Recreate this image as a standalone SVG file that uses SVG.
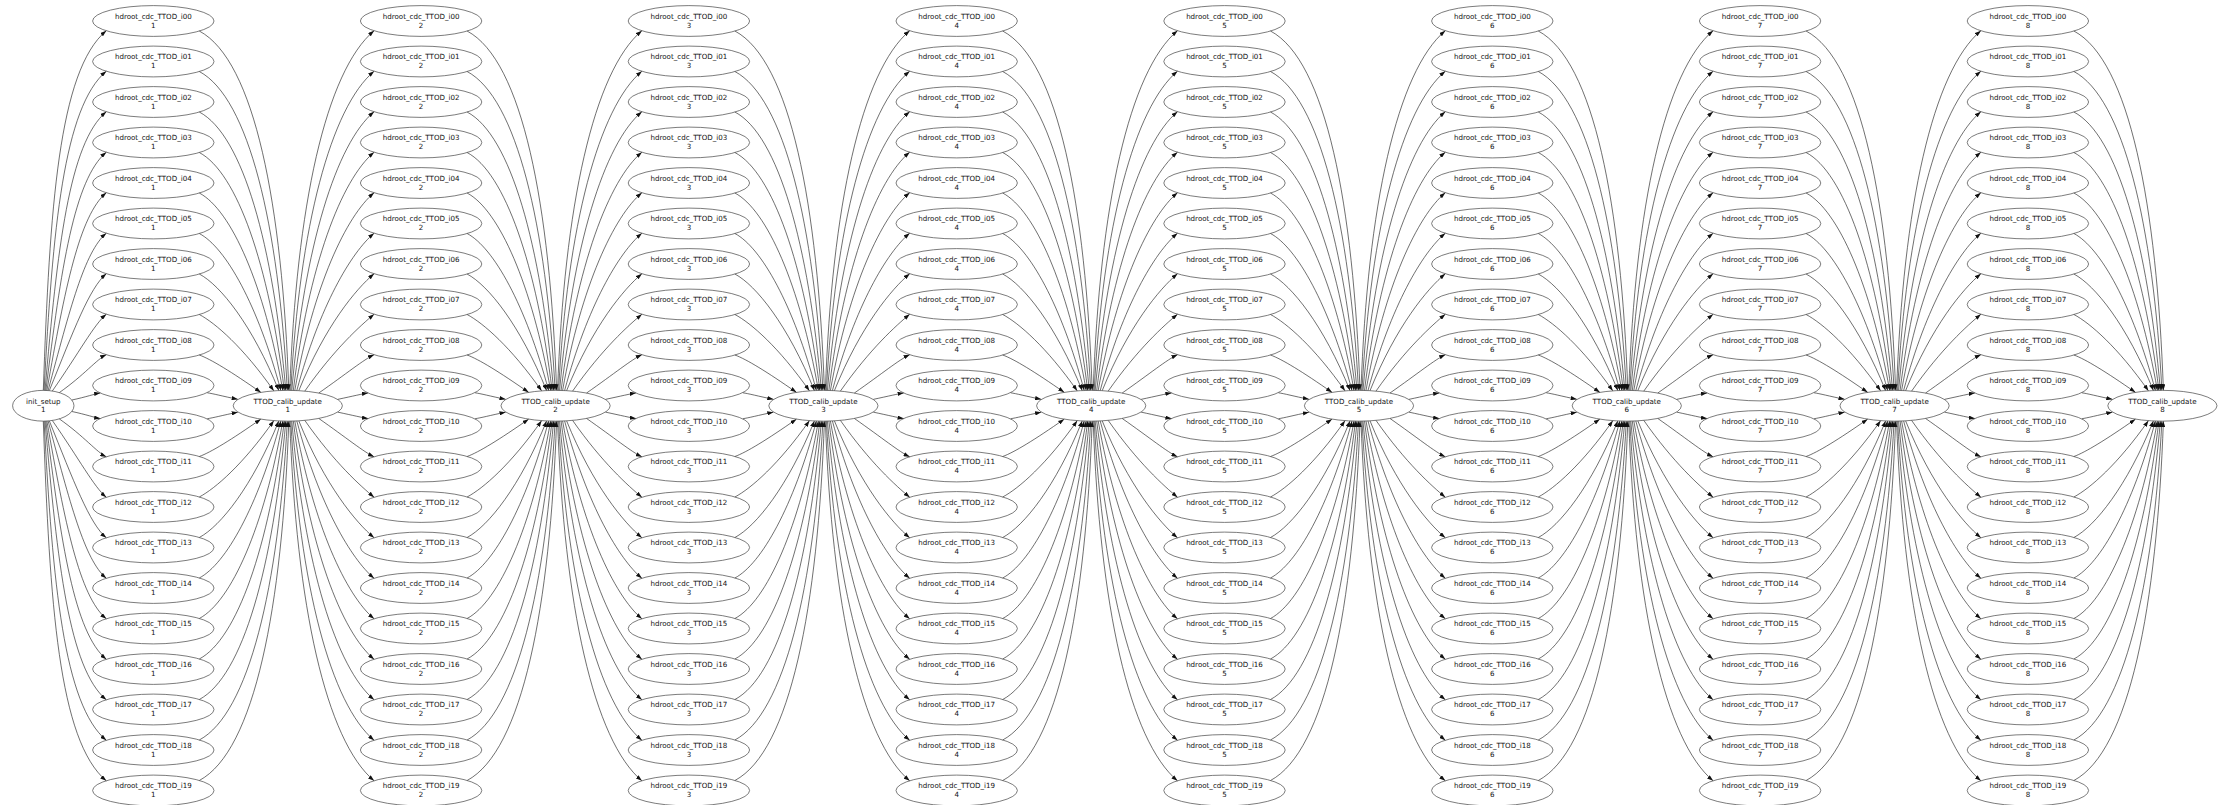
<svg xmlns="http://www.w3.org/2000/svg" width="2234" height="805" viewBox="0 0 2234 805">
<style>
.n ellipse{fill:none;stroke:#444;stroke-width:0.7}
.n text{font-family:"DejaVu Sans","Liberation Sans",sans-serif;font-size:7.1px;text-anchor:middle;fill:#111}
</style>
<defs>
<marker id="arr" markerUnits="userSpaceOnUse" viewBox="0 0 10 7" markerWidth="6.2" markerHeight="4.3" refX="10" refY="3.5" orient="auto"><path d="M0,0 L10,3.5 L0,7 z" fill="#111" stroke="none"/></marker>
<g id="fanin" fill="none" stroke="#222" stroke-width="0.65" marker-end="url(#arr)">
<path d="M46,31 C101.6,60.6 129,205.3 135.5,390.35"/>
<path d="M46,71.5 C95.6,97.9 125.3,225.2 134,390.35"/>
<path d="M46,112 C89.8,135.3 119.8,245.2 132.5,390.36"/>
<path d="M46,152.5 C83.9,172.6 115.6,265 131,390.38"/>
<path d="M46,193 C78.1,210.1 110.9,284.8 129.5,390.42"/>
<path d="M46,233.5 C72.6,247.6 104.6,305.1 127.5,390.48"/>
<path d="M46,274 C67.2,285.3 99.1,325.2 125.5,390.56"/>
<path d="M46,314.5 C62,323 89.9,347.15 120.5,390.85"/>
<path d="M46,355 C57.5,359.2 78,371.75 107.5,392.35"/>
<path d="M54,392.8 C59.25,393.54 69.24,396.11 84.5,399.35"/>
<path d="M54,418.7 C59.25,417.96 69.24,415.39 84.5,412.15"/>
<path d="M46,456.5 C57.5,452.3 78,439.75 107.5,419.15"/>
<path d="M46,497 C62,488.5 89.9,464.35 120.5,420.65"/>
<path d="M46,537.5 C67.2,526.2 99.1,486.3 125.5,420.94"/>
<path d="M46,578 C72.6,563.9 104.6,506.4 127.5,421.02"/>
<path d="M46,618.5 C78.1,601.4 110.9,526.7 129.5,421.08"/>
<path d="M46,659 C83.9,638.9 115.6,546.5 131,421.12"/>
<path d="M46,699.5 C89.8,676.2 119.8,566.3 132.5,421.14"/>
<path d="M46,740 C95.6,713.6 125.3,586.3 134,421.15"/>
<path d="M46,780.5 C101.6,750.9 129,606.2 135.5,421.15"/>
</g>
<g id="fanout" fill="none" stroke="#222" stroke-width="0.65" marker-end="url(#arr)">
<path d="M2,390.36 C8.4,205.8 38.2,71.1 86.3,30.7"/>
<path d="M3,390.37 C11.6,225.7 43.3,107.3 86.3,71.2"/>
<path d="M4,390.39 C16.7,245.7 48.5,143.5 86.3,111.7"/>
<path d="M5.5,390.43 C20.8,265.5 53.5,179.7 86.3,152.2"/>
<path d="M7,390.48 C25.5,285.6 58.6,216 86.3,192.7"/>
<path d="M9,390.56 C31.7,305.9 63.5,252.4 86.3,233.2"/>
<path d="M11,390.66 C37.1,326.2 68.2,288.9 86.3,273.7"/>
<path d="M17,391.1 C46.7,348.7 72.8,325.5 86.3,314.2"/>
<path d="M31,393.03 C58.6,373.7 76,359.5 86.3,354.7"/>
<path d="M50,399.35 C65.16,396.13 75.08,393.73 80.3,393"/>
<path d="M50,412.15 C65.16,415.37 75.08,417.77 80.3,418.5"/>
<path d="M31,418.47 C58.6,437.8 76,452 86.3,456.8"/>
<path d="M17,420.4 C46.7,462.8 72.8,486 86.3,497.3"/>
<path d="M11,420.84 C37.1,485.3 68.2,522.6 86.3,537.8"/>
<path d="M9,420.94 C31.7,505.6 63.5,559.1 86.3,578.3"/>
<path d="M7,421.02 C25.5,525.9 58.6,595.5 86.3,618.8"/>
<path d="M5.5,421.07 C20.8,546 53.5,631.8 86.3,659.3"/>
<path d="M4,421.11 C16.7,565.8 48.5,668 86.3,699.8"/>
<path d="M3,421.13 C11.6,585.8 43.3,704.2 86.3,740.3"/>
<path d="M2,421.14 C8.4,605.7 38.2,740.4 86.3,780.8"/>
</g>
<g id="initout" fill="none" stroke="#222" stroke-width="0.65" marker-end="url(#arr)">
<path d="M0,390.35 C6.4,207.85 15.4,70.6 63,30.7"/>
<path d="M0.8,390.36 C9.3,227.96 20.6,106.7 63,71.2"/>
<path d="M1.7,390.38 C14.1,248.2 25.8,142.9 63,111.7"/>
<path d="M2.6,390.41 C17.6,268.4 31,179.1 63,152.2"/>
<path d="M3.6,390.46 C21.5,288.8 36.1,215.3 63,192.7"/>
<path d="M4.8,390.54 C26.5,309.5 41.2,251.5 63,233.2"/>
<path d="M6,390.65 C30.4,330.35 46.1,287.9 63,273.7"/>
<path d="M9,391.03 C35.9,352.5 50.7,324.5 63,314.2"/>
<path d="M16,392.61 C40.7,375.3 53.7,359.05 63,354.7"/>
<path d="M28.5,400.03 C42.87,396.97 52.05,393.7 57,393"/>
<path d="M28.5,411.47 C42.87,414.53 52.05,417.8 57,418.5"/>
<path d="M16,418.89 C40.7,436.2 53.7,452.45 63,456.8"/>
<path d="M9,420.47 C35.9,459 50.7,487 63,497.3"/>
<path d="M6,420.85 C30.4,481.15 46.1,523.6 63,537.8"/>
<path d="M4.8,420.96 C26.5,502 41.2,560 63,578.3"/>
<path d="M3.6,421.04 C21.5,522.7 36.1,596.2 63,618.8"/>
<path d="M2.6,421.09 C17.6,543.1 31,632.4 63,659.3"/>
<path d="M1.7,421.12 C14.1,563.3 25.8,668.6 63,699.8"/>
<path d="M0.8,421.14 C9.3,583.54 20.6,704.8 63,740.3"/>
<path d="M0,421.15 C6.4,603.65 15.4,740.9 63,780.8"/>
</g>
</defs>
<rect width="2234" height="805" fill="#fff"/>
<g id="connectors">
<use href="#initout" x="43.3"/>
<use href="#fanin" x="153.3"/>
<use href="#fanout" x="287.8"/>
<use href="#fanin" x="421.1"/>
<use href="#fanout" x="555.6"/>
<use href="#fanin" x="688.9"/>
<use href="#fanout" x="823.4"/>
<use href="#fanin" x="956.7"/>
<use href="#fanout" x="1091.2"/>
<use href="#fanin" x="1224.5"/>
<use href="#fanout" x="1359"/>
<use href="#fanin" x="1492.3"/>
<use href="#fanout" x="1626.8"/>
<use href="#fanin" x="1760.1"/>
<use href="#fanout" x="1894.6"/>
<use href="#fanin" x="2027.9"/>
</g>
<g id="nodes">
<g id="init_setup" class="n" transform="translate(43.3,405.75)"><ellipse rx="30.7" ry="15.4"/><text y="-2.2">init_setup</text><text y="6.6">1</text></g>
<g id="ttod1" class="n" transform="translate(287.8,405.75)"><ellipse rx="54.6" ry="15.4"/><text y="-2.2">TTOD_calib_update</text><text y="6.6">1</text></g>
<g id="ttod2" class="n" transform="translate(555.6,405.75)"><ellipse rx="54.6" ry="15.4"/><text y="-2.2">TTOD_calib_update</text><text y="6.6">2</text></g>
<g id="ttod3" class="n" transform="translate(823.4,405.75)"><ellipse rx="54.6" ry="15.4"/><text y="-2.2">TTOD_calib_update</text><text y="6.6">3</text></g>
<g id="ttod4" class="n" transform="translate(1091.2,405.75)"><ellipse rx="54.6" ry="15.4"/><text y="-2.2">TTOD_calib_update</text><text y="6.6">4</text></g>
<g id="ttod5" class="n" transform="translate(1359,405.75)"><ellipse rx="54.6" ry="15.4"/><text y="-2.2">TTOD_calib_update</text><text y="6.6">5</text></g>
<g id="ttod6" class="n" transform="translate(1626.8,405.75)"><ellipse rx="54.6" ry="15.4"/><text y="-2.2">TTOD_calib_update</text><text y="6.6">6</text></g>
<g id="ttod7" class="n" transform="translate(1894.6,405.75)"><ellipse rx="54.6" ry="15.4"/><text y="-2.2">TTOD_calib_update</text><text y="6.6">7</text></g>
<g id="ttod8" class="n" transform="translate(2162.4,405.75)"><ellipse rx="54.6" ry="15.4"/><text y="-2.2">TTOD_calib_update</text><text y="6.6">8</text></g>
<g id="col1" transform="translate(153.3,0)">
<g id="h1_i00" class="n" transform="translate(0,21)"><ellipse rx="60.7" ry="15.4"/><text y="-2.2">hdroot_cdc_TTOD_i00</text><text y="6.6">1</text></g>
<g id="h1_i01" class="n" transform="translate(0,61.5)"><ellipse rx="60.7" ry="15.4"/><text y="-2.2">hdroot_cdc_TTOD_i01</text><text y="6.6">1</text></g>
<g id="h1_i02" class="n" transform="translate(0,102)"><ellipse rx="60.7" ry="15.4"/><text y="-2.2">hdroot_cdc_TTOD_i02</text><text y="6.6">1</text></g>
<g id="h1_i03" class="n" transform="translate(0,142.5)"><ellipse rx="60.7" ry="15.4"/><text y="-2.2">hdroot_cdc_TTOD_i03</text><text y="6.6">1</text></g>
<g id="h1_i04" class="n" transform="translate(0,183)"><ellipse rx="60.7" ry="15.4"/><text y="-2.2">hdroot_cdc_TTOD_i04</text><text y="6.6">1</text></g>
<g id="h1_i05" class="n" transform="translate(0,223.5)"><ellipse rx="60.7" ry="15.4"/><text y="-2.2">hdroot_cdc_TTOD_i05</text><text y="6.6">1</text></g>
<g id="h1_i06" class="n" transform="translate(0,264)"><ellipse rx="60.7" ry="15.4"/><text y="-2.2">hdroot_cdc_TTOD_i06</text><text y="6.6">1</text></g>
<g id="h1_i07" class="n" transform="translate(0,304.5)"><ellipse rx="60.7" ry="15.4"/><text y="-2.2">hdroot_cdc_TTOD_i07</text><text y="6.6">1</text></g>
<g id="h1_i08" class="n" transform="translate(0,345)"><ellipse rx="60.7" ry="15.4"/><text y="-2.2">hdroot_cdc_TTOD_i08</text><text y="6.6">1</text></g>
<g id="h1_i09" class="n" transform="translate(0,385.5)"><ellipse rx="60.7" ry="15.4"/><text y="-2.2">hdroot_cdc_TTOD_i09</text><text y="6.6">1</text></g>
<g id="h1_i10" class="n" transform="translate(0,426)"><ellipse rx="60.7" ry="15.4"/><text y="-2.2">hdroot_cdc_TTOD_i10</text><text y="6.6">1</text></g>
<g id="h1_i11" class="n" transform="translate(0,466.5)"><ellipse rx="60.7" ry="15.4"/><text y="-2.2">hdroot_cdc_TTOD_i11</text><text y="6.6">1</text></g>
<g id="h1_i12" class="n" transform="translate(0,507)"><ellipse rx="60.7" ry="15.4"/><text y="-2.2">hdroot_cdc_TTOD_i12</text><text y="6.6">1</text></g>
<g id="h1_i13" class="n" transform="translate(0,547.5)"><ellipse rx="60.7" ry="15.4"/><text y="-2.2">hdroot_cdc_TTOD_i13</text><text y="6.6">1</text></g>
<g id="h1_i14" class="n" transform="translate(0,588)"><ellipse rx="60.7" ry="15.4"/><text y="-2.2">hdroot_cdc_TTOD_i14</text><text y="6.6">1</text></g>
<g id="h1_i15" class="n" transform="translate(0,628.5)"><ellipse rx="60.7" ry="15.4"/><text y="-2.2">hdroot_cdc_TTOD_i15</text><text y="6.6">1</text></g>
<g id="h1_i16" class="n" transform="translate(0,669)"><ellipse rx="60.7" ry="15.4"/><text y="-2.2">hdroot_cdc_TTOD_i16</text><text y="6.6">1</text></g>
<g id="h1_i17" class="n" transform="translate(0,709.5)"><ellipse rx="60.7" ry="15.4"/><text y="-2.2">hdroot_cdc_TTOD_i17</text><text y="6.6">1</text></g>
<g id="h1_i18" class="n" transform="translate(0,750)"><ellipse rx="60.7" ry="15.4"/><text y="-2.2">hdroot_cdc_TTOD_i18</text><text y="6.6">1</text></g>
<g id="h1_i19" class="n" transform="translate(0,790.5)"><ellipse rx="60.7" ry="15.4"/><text y="-2.2">hdroot_cdc_TTOD_i19</text><text y="6.6">1</text></g>
</g>
<g id="col2" transform="translate(421.1,0)">
<g id="h2_i00" class="n" transform="translate(0,21)"><ellipse rx="60.7" ry="15.4"/><text y="-2.2">hdroot_cdc_TTOD_i00</text><text y="6.6">2</text></g>
<g id="h2_i01" class="n" transform="translate(0,61.5)"><ellipse rx="60.7" ry="15.4"/><text y="-2.2">hdroot_cdc_TTOD_i01</text><text y="6.6">2</text></g>
<g id="h2_i02" class="n" transform="translate(0,102)"><ellipse rx="60.7" ry="15.4"/><text y="-2.2">hdroot_cdc_TTOD_i02</text><text y="6.6">2</text></g>
<g id="h2_i03" class="n" transform="translate(0,142.5)"><ellipse rx="60.7" ry="15.4"/><text y="-2.2">hdroot_cdc_TTOD_i03</text><text y="6.6">2</text></g>
<g id="h2_i04" class="n" transform="translate(0,183)"><ellipse rx="60.7" ry="15.4"/><text y="-2.2">hdroot_cdc_TTOD_i04</text><text y="6.6">2</text></g>
<g id="h2_i05" class="n" transform="translate(0,223.5)"><ellipse rx="60.7" ry="15.4"/><text y="-2.2">hdroot_cdc_TTOD_i05</text><text y="6.6">2</text></g>
<g id="h2_i06" class="n" transform="translate(0,264)"><ellipse rx="60.7" ry="15.4"/><text y="-2.2">hdroot_cdc_TTOD_i06</text><text y="6.6">2</text></g>
<g id="h2_i07" class="n" transform="translate(0,304.5)"><ellipse rx="60.7" ry="15.4"/><text y="-2.2">hdroot_cdc_TTOD_i07</text><text y="6.6">2</text></g>
<g id="h2_i08" class="n" transform="translate(0,345)"><ellipse rx="60.7" ry="15.4"/><text y="-2.2">hdroot_cdc_TTOD_i08</text><text y="6.6">2</text></g>
<g id="h2_i09" class="n" transform="translate(0,385.5)"><ellipse rx="60.7" ry="15.4"/><text y="-2.2">hdroot_cdc_TTOD_i09</text><text y="6.6">2</text></g>
<g id="h2_i10" class="n" transform="translate(0,426)"><ellipse rx="60.7" ry="15.4"/><text y="-2.2">hdroot_cdc_TTOD_i10</text><text y="6.6">2</text></g>
<g id="h2_i11" class="n" transform="translate(0,466.5)"><ellipse rx="60.7" ry="15.4"/><text y="-2.2">hdroot_cdc_TTOD_i11</text><text y="6.6">2</text></g>
<g id="h2_i12" class="n" transform="translate(0,507)"><ellipse rx="60.7" ry="15.4"/><text y="-2.2">hdroot_cdc_TTOD_i12</text><text y="6.6">2</text></g>
<g id="h2_i13" class="n" transform="translate(0,547.5)"><ellipse rx="60.7" ry="15.4"/><text y="-2.2">hdroot_cdc_TTOD_i13</text><text y="6.6">2</text></g>
<g id="h2_i14" class="n" transform="translate(0,588)"><ellipse rx="60.7" ry="15.4"/><text y="-2.2">hdroot_cdc_TTOD_i14</text><text y="6.6">2</text></g>
<g id="h2_i15" class="n" transform="translate(0,628.5)"><ellipse rx="60.7" ry="15.4"/><text y="-2.2">hdroot_cdc_TTOD_i15</text><text y="6.6">2</text></g>
<g id="h2_i16" class="n" transform="translate(0,669)"><ellipse rx="60.7" ry="15.4"/><text y="-2.2">hdroot_cdc_TTOD_i16</text><text y="6.6">2</text></g>
<g id="h2_i17" class="n" transform="translate(0,709.5)"><ellipse rx="60.7" ry="15.4"/><text y="-2.2">hdroot_cdc_TTOD_i17</text><text y="6.6">2</text></g>
<g id="h2_i18" class="n" transform="translate(0,750)"><ellipse rx="60.7" ry="15.4"/><text y="-2.2">hdroot_cdc_TTOD_i18</text><text y="6.6">2</text></g>
<g id="h2_i19" class="n" transform="translate(0,790.5)"><ellipse rx="60.7" ry="15.4"/><text y="-2.2">hdroot_cdc_TTOD_i19</text><text y="6.6">2</text></g>
</g>
<g id="col3" transform="translate(688.9,0)">
<g id="h3_i00" class="n" transform="translate(0,21)"><ellipse rx="60.7" ry="15.4"/><text y="-2.2">hdroot_cdc_TTOD_i00</text><text y="6.6">3</text></g>
<g id="h3_i01" class="n" transform="translate(0,61.5)"><ellipse rx="60.7" ry="15.4"/><text y="-2.2">hdroot_cdc_TTOD_i01</text><text y="6.6">3</text></g>
<g id="h3_i02" class="n" transform="translate(0,102)"><ellipse rx="60.7" ry="15.4"/><text y="-2.2">hdroot_cdc_TTOD_i02</text><text y="6.6">3</text></g>
<g id="h3_i03" class="n" transform="translate(0,142.5)"><ellipse rx="60.7" ry="15.4"/><text y="-2.2">hdroot_cdc_TTOD_i03</text><text y="6.6">3</text></g>
<g id="h3_i04" class="n" transform="translate(0,183)"><ellipse rx="60.7" ry="15.4"/><text y="-2.2">hdroot_cdc_TTOD_i04</text><text y="6.6">3</text></g>
<g id="h3_i05" class="n" transform="translate(0,223.5)"><ellipse rx="60.7" ry="15.4"/><text y="-2.2">hdroot_cdc_TTOD_i05</text><text y="6.6">3</text></g>
<g id="h3_i06" class="n" transform="translate(0,264)"><ellipse rx="60.7" ry="15.4"/><text y="-2.2">hdroot_cdc_TTOD_i06</text><text y="6.6">3</text></g>
<g id="h3_i07" class="n" transform="translate(0,304.5)"><ellipse rx="60.7" ry="15.4"/><text y="-2.2">hdroot_cdc_TTOD_i07</text><text y="6.6">3</text></g>
<g id="h3_i08" class="n" transform="translate(0,345)"><ellipse rx="60.7" ry="15.4"/><text y="-2.2">hdroot_cdc_TTOD_i08</text><text y="6.6">3</text></g>
<g id="h3_i09" class="n" transform="translate(0,385.5)"><ellipse rx="60.7" ry="15.4"/><text y="-2.2">hdroot_cdc_TTOD_i09</text><text y="6.6">3</text></g>
<g id="h3_i10" class="n" transform="translate(0,426)"><ellipse rx="60.7" ry="15.4"/><text y="-2.2">hdroot_cdc_TTOD_i10</text><text y="6.6">3</text></g>
<g id="h3_i11" class="n" transform="translate(0,466.5)"><ellipse rx="60.7" ry="15.4"/><text y="-2.2">hdroot_cdc_TTOD_i11</text><text y="6.6">3</text></g>
<g id="h3_i12" class="n" transform="translate(0,507)"><ellipse rx="60.7" ry="15.4"/><text y="-2.2">hdroot_cdc_TTOD_i12</text><text y="6.6">3</text></g>
<g id="h3_i13" class="n" transform="translate(0,547.5)"><ellipse rx="60.7" ry="15.4"/><text y="-2.2">hdroot_cdc_TTOD_i13</text><text y="6.6">3</text></g>
<g id="h3_i14" class="n" transform="translate(0,588)"><ellipse rx="60.7" ry="15.4"/><text y="-2.2">hdroot_cdc_TTOD_i14</text><text y="6.6">3</text></g>
<g id="h3_i15" class="n" transform="translate(0,628.5)"><ellipse rx="60.7" ry="15.4"/><text y="-2.2">hdroot_cdc_TTOD_i15</text><text y="6.6">3</text></g>
<g id="h3_i16" class="n" transform="translate(0,669)"><ellipse rx="60.7" ry="15.4"/><text y="-2.2">hdroot_cdc_TTOD_i16</text><text y="6.6">3</text></g>
<g id="h3_i17" class="n" transform="translate(0,709.5)"><ellipse rx="60.7" ry="15.4"/><text y="-2.2">hdroot_cdc_TTOD_i17</text><text y="6.6">3</text></g>
<g id="h3_i18" class="n" transform="translate(0,750)"><ellipse rx="60.7" ry="15.4"/><text y="-2.2">hdroot_cdc_TTOD_i18</text><text y="6.6">3</text></g>
<g id="h3_i19" class="n" transform="translate(0,790.5)"><ellipse rx="60.7" ry="15.4"/><text y="-2.2">hdroot_cdc_TTOD_i19</text><text y="6.6">3</text></g>
</g>
<g id="col4" transform="translate(956.7,0)">
<g id="h4_i00" class="n" transform="translate(0,21)"><ellipse rx="60.7" ry="15.4"/><text y="-2.2">hdroot_cdc_TTOD_i00</text><text y="6.6">4</text></g>
<g id="h4_i01" class="n" transform="translate(0,61.5)"><ellipse rx="60.7" ry="15.4"/><text y="-2.2">hdroot_cdc_TTOD_i01</text><text y="6.6">4</text></g>
<g id="h4_i02" class="n" transform="translate(0,102)"><ellipse rx="60.7" ry="15.4"/><text y="-2.2">hdroot_cdc_TTOD_i02</text><text y="6.6">4</text></g>
<g id="h4_i03" class="n" transform="translate(0,142.5)"><ellipse rx="60.7" ry="15.4"/><text y="-2.2">hdroot_cdc_TTOD_i03</text><text y="6.6">4</text></g>
<g id="h4_i04" class="n" transform="translate(0,183)"><ellipse rx="60.7" ry="15.4"/><text y="-2.2">hdroot_cdc_TTOD_i04</text><text y="6.6">4</text></g>
<g id="h4_i05" class="n" transform="translate(0,223.5)"><ellipse rx="60.7" ry="15.4"/><text y="-2.2">hdroot_cdc_TTOD_i05</text><text y="6.6">4</text></g>
<g id="h4_i06" class="n" transform="translate(0,264)"><ellipse rx="60.7" ry="15.4"/><text y="-2.2">hdroot_cdc_TTOD_i06</text><text y="6.6">4</text></g>
<g id="h4_i07" class="n" transform="translate(0,304.5)"><ellipse rx="60.7" ry="15.4"/><text y="-2.2">hdroot_cdc_TTOD_i07</text><text y="6.6">4</text></g>
<g id="h4_i08" class="n" transform="translate(0,345)"><ellipse rx="60.7" ry="15.4"/><text y="-2.2">hdroot_cdc_TTOD_i08</text><text y="6.6">4</text></g>
<g id="h4_i09" class="n" transform="translate(0,385.5)"><ellipse rx="60.7" ry="15.4"/><text y="-2.2">hdroot_cdc_TTOD_i09</text><text y="6.6">4</text></g>
<g id="h4_i10" class="n" transform="translate(0,426)"><ellipse rx="60.7" ry="15.4"/><text y="-2.2">hdroot_cdc_TTOD_i10</text><text y="6.6">4</text></g>
<g id="h4_i11" class="n" transform="translate(0,466.5)"><ellipse rx="60.7" ry="15.4"/><text y="-2.2">hdroot_cdc_TTOD_i11</text><text y="6.6">4</text></g>
<g id="h4_i12" class="n" transform="translate(0,507)"><ellipse rx="60.7" ry="15.4"/><text y="-2.2">hdroot_cdc_TTOD_i12</text><text y="6.6">4</text></g>
<g id="h4_i13" class="n" transform="translate(0,547.5)"><ellipse rx="60.7" ry="15.4"/><text y="-2.2">hdroot_cdc_TTOD_i13</text><text y="6.6">4</text></g>
<g id="h4_i14" class="n" transform="translate(0,588)"><ellipse rx="60.7" ry="15.4"/><text y="-2.2">hdroot_cdc_TTOD_i14</text><text y="6.6">4</text></g>
<g id="h4_i15" class="n" transform="translate(0,628.5)"><ellipse rx="60.7" ry="15.4"/><text y="-2.2">hdroot_cdc_TTOD_i15</text><text y="6.6">4</text></g>
<g id="h4_i16" class="n" transform="translate(0,669)"><ellipse rx="60.7" ry="15.4"/><text y="-2.2">hdroot_cdc_TTOD_i16</text><text y="6.6">4</text></g>
<g id="h4_i17" class="n" transform="translate(0,709.5)"><ellipse rx="60.7" ry="15.4"/><text y="-2.2">hdroot_cdc_TTOD_i17</text><text y="6.6">4</text></g>
<g id="h4_i18" class="n" transform="translate(0,750)"><ellipse rx="60.7" ry="15.4"/><text y="-2.2">hdroot_cdc_TTOD_i18</text><text y="6.6">4</text></g>
<g id="h4_i19" class="n" transform="translate(0,790.5)"><ellipse rx="60.7" ry="15.4"/><text y="-2.2">hdroot_cdc_TTOD_i19</text><text y="6.6">4</text></g>
</g>
<g id="col5" transform="translate(1224.5,0)">
<g id="h5_i00" class="n" transform="translate(0,21)"><ellipse rx="60.7" ry="15.4"/><text y="-2.2">hdroot_cdc_TTOD_i00</text><text y="6.6">5</text></g>
<g id="h5_i01" class="n" transform="translate(0,61.5)"><ellipse rx="60.7" ry="15.4"/><text y="-2.2">hdroot_cdc_TTOD_i01</text><text y="6.6">5</text></g>
<g id="h5_i02" class="n" transform="translate(0,102)"><ellipse rx="60.7" ry="15.4"/><text y="-2.2">hdroot_cdc_TTOD_i02</text><text y="6.6">5</text></g>
<g id="h5_i03" class="n" transform="translate(0,142.5)"><ellipse rx="60.7" ry="15.4"/><text y="-2.2">hdroot_cdc_TTOD_i03</text><text y="6.6">5</text></g>
<g id="h5_i04" class="n" transform="translate(0,183)"><ellipse rx="60.7" ry="15.4"/><text y="-2.2">hdroot_cdc_TTOD_i04</text><text y="6.6">5</text></g>
<g id="h5_i05" class="n" transform="translate(0,223.5)"><ellipse rx="60.7" ry="15.4"/><text y="-2.2">hdroot_cdc_TTOD_i05</text><text y="6.6">5</text></g>
<g id="h5_i06" class="n" transform="translate(0,264)"><ellipse rx="60.7" ry="15.4"/><text y="-2.2">hdroot_cdc_TTOD_i06</text><text y="6.6">5</text></g>
<g id="h5_i07" class="n" transform="translate(0,304.5)"><ellipse rx="60.7" ry="15.4"/><text y="-2.2">hdroot_cdc_TTOD_i07</text><text y="6.6">5</text></g>
<g id="h5_i08" class="n" transform="translate(0,345)"><ellipse rx="60.7" ry="15.4"/><text y="-2.2">hdroot_cdc_TTOD_i08</text><text y="6.6">5</text></g>
<g id="h5_i09" class="n" transform="translate(0,385.5)"><ellipse rx="60.7" ry="15.4"/><text y="-2.2">hdroot_cdc_TTOD_i09</text><text y="6.6">5</text></g>
<g id="h5_i10" class="n" transform="translate(0,426)"><ellipse rx="60.7" ry="15.4"/><text y="-2.2">hdroot_cdc_TTOD_i10</text><text y="6.6">5</text></g>
<g id="h5_i11" class="n" transform="translate(0,466.5)"><ellipse rx="60.7" ry="15.4"/><text y="-2.2">hdroot_cdc_TTOD_i11</text><text y="6.6">5</text></g>
<g id="h5_i12" class="n" transform="translate(0,507)"><ellipse rx="60.7" ry="15.4"/><text y="-2.2">hdroot_cdc_TTOD_i12</text><text y="6.6">5</text></g>
<g id="h5_i13" class="n" transform="translate(0,547.5)"><ellipse rx="60.7" ry="15.4"/><text y="-2.2">hdroot_cdc_TTOD_i13</text><text y="6.6">5</text></g>
<g id="h5_i14" class="n" transform="translate(0,588)"><ellipse rx="60.7" ry="15.4"/><text y="-2.2">hdroot_cdc_TTOD_i14</text><text y="6.6">5</text></g>
<g id="h5_i15" class="n" transform="translate(0,628.5)"><ellipse rx="60.7" ry="15.4"/><text y="-2.2">hdroot_cdc_TTOD_i15</text><text y="6.6">5</text></g>
<g id="h5_i16" class="n" transform="translate(0,669)"><ellipse rx="60.7" ry="15.4"/><text y="-2.2">hdroot_cdc_TTOD_i16</text><text y="6.6">5</text></g>
<g id="h5_i17" class="n" transform="translate(0,709.5)"><ellipse rx="60.7" ry="15.4"/><text y="-2.2">hdroot_cdc_TTOD_i17</text><text y="6.6">5</text></g>
<g id="h5_i18" class="n" transform="translate(0,750)"><ellipse rx="60.7" ry="15.4"/><text y="-2.2">hdroot_cdc_TTOD_i18</text><text y="6.6">5</text></g>
<g id="h5_i19" class="n" transform="translate(0,790.5)"><ellipse rx="60.7" ry="15.4"/><text y="-2.2">hdroot_cdc_TTOD_i19</text><text y="6.6">5</text></g>
</g>
<g id="col6" transform="translate(1492.3,0)">
<g id="h6_i00" class="n" transform="translate(0,21)"><ellipse rx="60.7" ry="15.4"/><text y="-2.2">hdroot_cdc_TTOD_i00</text><text y="6.6">6</text></g>
<g id="h6_i01" class="n" transform="translate(0,61.5)"><ellipse rx="60.7" ry="15.4"/><text y="-2.2">hdroot_cdc_TTOD_i01</text><text y="6.6">6</text></g>
<g id="h6_i02" class="n" transform="translate(0,102)"><ellipse rx="60.7" ry="15.4"/><text y="-2.2">hdroot_cdc_TTOD_i02</text><text y="6.6">6</text></g>
<g id="h6_i03" class="n" transform="translate(0,142.5)"><ellipse rx="60.7" ry="15.4"/><text y="-2.2">hdroot_cdc_TTOD_i03</text><text y="6.6">6</text></g>
<g id="h6_i04" class="n" transform="translate(0,183)"><ellipse rx="60.7" ry="15.4"/><text y="-2.2">hdroot_cdc_TTOD_i04</text><text y="6.6">6</text></g>
<g id="h6_i05" class="n" transform="translate(0,223.5)"><ellipse rx="60.7" ry="15.4"/><text y="-2.2">hdroot_cdc_TTOD_i05</text><text y="6.6">6</text></g>
<g id="h6_i06" class="n" transform="translate(0,264)"><ellipse rx="60.7" ry="15.4"/><text y="-2.2">hdroot_cdc_TTOD_i06</text><text y="6.6">6</text></g>
<g id="h6_i07" class="n" transform="translate(0,304.5)"><ellipse rx="60.7" ry="15.4"/><text y="-2.2">hdroot_cdc_TTOD_i07</text><text y="6.6">6</text></g>
<g id="h6_i08" class="n" transform="translate(0,345)"><ellipse rx="60.7" ry="15.4"/><text y="-2.2">hdroot_cdc_TTOD_i08</text><text y="6.6">6</text></g>
<g id="h6_i09" class="n" transform="translate(0,385.5)"><ellipse rx="60.7" ry="15.4"/><text y="-2.2">hdroot_cdc_TTOD_i09</text><text y="6.6">6</text></g>
<g id="h6_i10" class="n" transform="translate(0,426)"><ellipse rx="60.7" ry="15.4"/><text y="-2.2">hdroot_cdc_TTOD_i10</text><text y="6.6">6</text></g>
<g id="h6_i11" class="n" transform="translate(0,466.5)"><ellipse rx="60.7" ry="15.4"/><text y="-2.2">hdroot_cdc_TTOD_i11</text><text y="6.6">6</text></g>
<g id="h6_i12" class="n" transform="translate(0,507)"><ellipse rx="60.7" ry="15.4"/><text y="-2.2">hdroot_cdc_TTOD_i12</text><text y="6.6">6</text></g>
<g id="h6_i13" class="n" transform="translate(0,547.5)"><ellipse rx="60.7" ry="15.4"/><text y="-2.2">hdroot_cdc_TTOD_i13</text><text y="6.6">6</text></g>
<g id="h6_i14" class="n" transform="translate(0,588)"><ellipse rx="60.7" ry="15.4"/><text y="-2.2">hdroot_cdc_TTOD_i14</text><text y="6.6">6</text></g>
<g id="h6_i15" class="n" transform="translate(0,628.5)"><ellipse rx="60.7" ry="15.4"/><text y="-2.2">hdroot_cdc_TTOD_i15</text><text y="6.6">6</text></g>
<g id="h6_i16" class="n" transform="translate(0,669)"><ellipse rx="60.7" ry="15.4"/><text y="-2.2">hdroot_cdc_TTOD_i16</text><text y="6.6">6</text></g>
<g id="h6_i17" class="n" transform="translate(0,709.5)"><ellipse rx="60.7" ry="15.4"/><text y="-2.2">hdroot_cdc_TTOD_i17</text><text y="6.6">6</text></g>
<g id="h6_i18" class="n" transform="translate(0,750)"><ellipse rx="60.7" ry="15.4"/><text y="-2.2">hdroot_cdc_TTOD_i18</text><text y="6.6">6</text></g>
<g id="h6_i19" class="n" transform="translate(0,790.5)"><ellipse rx="60.7" ry="15.4"/><text y="-2.2">hdroot_cdc_TTOD_i19</text><text y="6.6">6</text></g>
</g>
<g id="col7" transform="translate(1760.1,0)">
<g id="h7_i00" class="n" transform="translate(0,21)"><ellipse rx="60.7" ry="15.4"/><text y="-2.2">hdroot_cdc_TTOD_i00</text><text y="6.6">7</text></g>
<g id="h7_i01" class="n" transform="translate(0,61.5)"><ellipse rx="60.7" ry="15.4"/><text y="-2.2">hdroot_cdc_TTOD_i01</text><text y="6.6">7</text></g>
<g id="h7_i02" class="n" transform="translate(0,102)"><ellipse rx="60.7" ry="15.4"/><text y="-2.2">hdroot_cdc_TTOD_i02</text><text y="6.6">7</text></g>
<g id="h7_i03" class="n" transform="translate(0,142.5)"><ellipse rx="60.7" ry="15.4"/><text y="-2.2">hdroot_cdc_TTOD_i03</text><text y="6.6">7</text></g>
<g id="h7_i04" class="n" transform="translate(0,183)"><ellipse rx="60.7" ry="15.4"/><text y="-2.2">hdroot_cdc_TTOD_i04</text><text y="6.6">7</text></g>
<g id="h7_i05" class="n" transform="translate(0,223.5)"><ellipse rx="60.7" ry="15.4"/><text y="-2.2">hdroot_cdc_TTOD_i05</text><text y="6.6">7</text></g>
<g id="h7_i06" class="n" transform="translate(0,264)"><ellipse rx="60.7" ry="15.4"/><text y="-2.2">hdroot_cdc_TTOD_i06</text><text y="6.6">7</text></g>
<g id="h7_i07" class="n" transform="translate(0,304.5)"><ellipse rx="60.7" ry="15.4"/><text y="-2.2">hdroot_cdc_TTOD_i07</text><text y="6.6">7</text></g>
<g id="h7_i08" class="n" transform="translate(0,345)"><ellipse rx="60.7" ry="15.4"/><text y="-2.2">hdroot_cdc_TTOD_i08</text><text y="6.6">7</text></g>
<g id="h7_i09" class="n" transform="translate(0,385.5)"><ellipse rx="60.7" ry="15.4"/><text y="-2.2">hdroot_cdc_TTOD_i09</text><text y="6.6">7</text></g>
<g id="h7_i10" class="n" transform="translate(0,426)"><ellipse rx="60.7" ry="15.4"/><text y="-2.2">hdroot_cdc_TTOD_i10</text><text y="6.6">7</text></g>
<g id="h7_i11" class="n" transform="translate(0,466.5)"><ellipse rx="60.7" ry="15.4"/><text y="-2.2">hdroot_cdc_TTOD_i11</text><text y="6.6">7</text></g>
<g id="h7_i12" class="n" transform="translate(0,507)"><ellipse rx="60.7" ry="15.4"/><text y="-2.2">hdroot_cdc_TTOD_i12</text><text y="6.6">7</text></g>
<g id="h7_i13" class="n" transform="translate(0,547.5)"><ellipse rx="60.7" ry="15.4"/><text y="-2.2">hdroot_cdc_TTOD_i13</text><text y="6.6">7</text></g>
<g id="h7_i14" class="n" transform="translate(0,588)"><ellipse rx="60.7" ry="15.4"/><text y="-2.2">hdroot_cdc_TTOD_i14</text><text y="6.6">7</text></g>
<g id="h7_i15" class="n" transform="translate(0,628.5)"><ellipse rx="60.7" ry="15.4"/><text y="-2.2">hdroot_cdc_TTOD_i15</text><text y="6.6">7</text></g>
<g id="h7_i16" class="n" transform="translate(0,669)"><ellipse rx="60.7" ry="15.4"/><text y="-2.2">hdroot_cdc_TTOD_i16</text><text y="6.6">7</text></g>
<g id="h7_i17" class="n" transform="translate(0,709.5)"><ellipse rx="60.7" ry="15.4"/><text y="-2.2">hdroot_cdc_TTOD_i17</text><text y="6.6">7</text></g>
<g id="h7_i18" class="n" transform="translate(0,750)"><ellipse rx="60.7" ry="15.4"/><text y="-2.2">hdroot_cdc_TTOD_i18</text><text y="6.6">7</text></g>
<g id="h7_i19" class="n" transform="translate(0,790.5)"><ellipse rx="60.7" ry="15.4"/><text y="-2.2">hdroot_cdc_TTOD_i19</text><text y="6.6">7</text></g>
</g>
<g id="col8" transform="translate(2027.9,0)">
<g id="h8_i00" class="n" transform="translate(0,21)"><ellipse rx="60.7" ry="15.4"/><text y="-2.2">hdroot_cdc_TTOD_i00</text><text y="6.6">8</text></g>
<g id="h8_i01" class="n" transform="translate(0,61.5)"><ellipse rx="60.7" ry="15.4"/><text y="-2.2">hdroot_cdc_TTOD_i01</text><text y="6.6">8</text></g>
<g id="h8_i02" class="n" transform="translate(0,102)"><ellipse rx="60.7" ry="15.4"/><text y="-2.2">hdroot_cdc_TTOD_i02</text><text y="6.6">8</text></g>
<g id="h8_i03" class="n" transform="translate(0,142.5)"><ellipse rx="60.7" ry="15.4"/><text y="-2.2">hdroot_cdc_TTOD_i03</text><text y="6.6">8</text></g>
<g id="h8_i04" class="n" transform="translate(0,183)"><ellipse rx="60.7" ry="15.4"/><text y="-2.2">hdroot_cdc_TTOD_i04</text><text y="6.6">8</text></g>
<g id="h8_i05" class="n" transform="translate(0,223.5)"><ellipse rx="60.7" ry="15.4"/><text y="-2.2">hdroot_cdc_TTOD_i05</text><text y="6.6">8</text></g>
<g id="h8_i06" class="n" transform="translate(0,264)"><ellipse rx="60.7" ry="15.4"/><text y="-2.2">hdroot_cdc_TTOD_i06</text><text y="6.6">8</text></g>
<g id="h8_i07" class="n" transform="translate(0,304.5)"><ellipse rx="60.7" ry="15.4"/><text y="-2.2">hdroot_cdc_TTOD_i07</text><text y="6.6">8</text></g>
<g id="h8_i08" class="n" transform="translate(0,345)"><ellipse rx="60.7" ry="15.4"/><text y="-2.2">hdroot_cdc_TTOD_i08</text><text y="6.6">8</text></g>
<g id="h8_i09" class="n" transform="translate(0,385.5)"><ellipse rx="60.7" ry="15.4"/><text y="-2.2">hdroot_cdc_TTOD_i09</text><text y="6.6">8</text></g>
<g id="h8_i10" class="n" transform="translate(0,426)"><ellipse rx="60.7" ry="15.4"/><text y="-2.2">hdroot_cdc_TTOD_i10</text><text y="6.6">8</text></g>
<g id="h8_i11" class="n" transform="translate(0,466.5)"><ellipse rx="60.7" ry="15.4"/><text y="-2.2">hdroot_cdc_TTOD_i11</text><text y="6.6">8</text></g>
<g id="h8_i12" class="n" transform="translate(0,507)"><ellipse rx="60.7" ry="15.4"/><text y="-2.2">hdroot_cdc_TTOD_i12</text><text y="6.6">8</text></g>
<g id="h8_i13" class="n" transform="translate(0,547.5)"><ellipse rx="60.7" ry="15.4"/><text y="-2.2">hdroot_cdc_TTOD_i13</text><text y="6.6">8</text></g>
<g id="h8_i14" class="n" transform="translate(0,588)"><ellipse rx="60.7" ry="15.4"/><text y="-2.2">hdroot_cdc_TTOD_i14</text><text y="6.6">8</text></g>
<g id="h8_i15" class="n" transform="translate(0,628.5)"><ellipse rx="60.7" ry="15.4"/><text y="-2.2">hdroot_cdc_TTOD_i15</text><text y="6.6">8</text></g>
<g id="h8_i16" class="n" transform="translate(0,669)"><ellipse rx="60.7" ry="15.4"/><text y="-2.2">hdroot_cdc_TTOD_i16</text><text y="6.6">8</text></g>
<g id="h8_i17" class="n" transform="translate(0,709.5)"><ellipse rx="60.7" ry="15.4"/><text y="-2.2">hdroot_cdc_TTOD_i17</text><text y="6.6">8</text></g>
<g id="h8_i18" class="n" transform="translate(0,750)"><ellipse rx="60.7" ry="15.4"/><text y="-2.2">hdroot_cdc_TTOD_i18</text><text y="6.6">8</text></g>
<g id="h8_i19" class="n" transform="translate(0,790.5)"><ellipse rx="60.7" ry="15.4"/><text y="-2.2">hdroot_cdc_TTOD_i19</text><text y="6.6">8</text></g>
</g>
</g>
</svg>
